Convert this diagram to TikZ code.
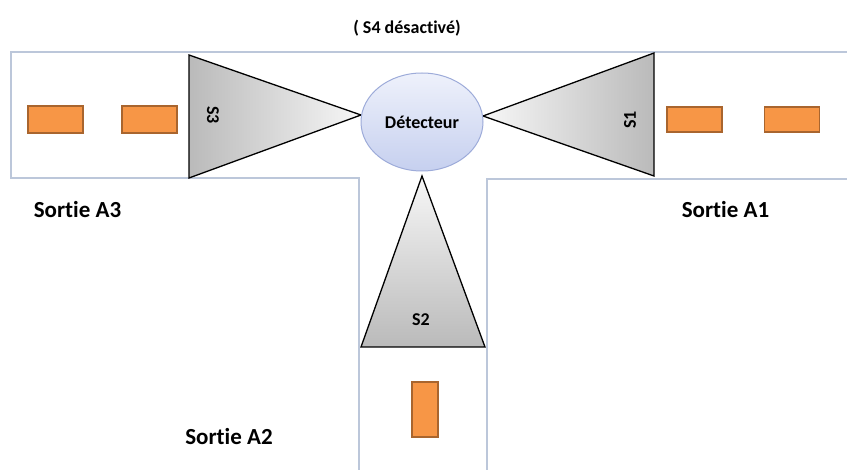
\documentclass[tikz,border=0pt]{standalone}
\usepackage{fontspec}
\setmainfont{Carlito}[RawFeature=-liga]
\usetikzlibrary{positioning,shapes.geometric}
\definecolor{route}{HTML}{BCC7DA}
\definecolor{voiture}{HTML}{F79646}
\definecolor{voiturebord}{HTML}{A9652E}
\definecolor{bleuclair}{HTML}{EEF1FB}
\definecolor{bleu}{HTML}{C6D0EF}
\definecolor{bleubord}{HTML}{9DABD9}
\definecolor{gris}{HTML}{BABABA}
\definecolor{grisclair}{HTML}{F7F7F7}

\begin{document}
\begin{tikzpicture}[x=1pt,y=-1pt,
    voie/.style={draw=route,line width=1.6pt},
    vehicule/.style={rectangle,fill=voiture,draw=voiturebord,line width=1.2pt,inner sep=0pt},
    capteur/.style={draw=black,line width=1.3pt,line join=miter},
    etiquette/.style={font=\bfseries\fontsize{18}{20}\selectfont,inner sep=1pt},
    sortie/.style={font=\bfseries\fontsize{23}{26}\selectfont,inner sep=1pt}]
  \useasboundingbox (0,0) rectangle (847,470);

  % bords de la route
  \draw[voie] (847,52) -- (11,52) -- (11,178) -- (359,178) -- (359,470);
  \draw[voie] (487,470) -- (487,179) -- (847,179);

  % capteurs
  \path[capteur,left color=gris,right color=grisclair] (189,55) -- (189,178) -- (361,115) -- cycle;
  \path[capteur,left color=grisclair,right color=gris] (654,53) -- (654,176) -- (483,116) -- cycle;
  \path[capteur,top color=grisclair,bottom color=gris] (422,176) -- (485,347) -- (361,347) -- cycle;

  \node[ellipse,draw=bleubord,top color=bleuclair,bottom color=bleu,line width=1pt,
    minimum width=122pt,minimum height=98pt,inner sep=0pt,
    font=\bfseries\fontsize{18}{20}\selectfont] (det) at (422,122) {Détecteur};

  \node[etiquette,rotate=-90] (s3) at (213,115) {S3};
  \node[etiquette,rotate=90] (s1) at (630,120) {S1};
  \node[etiquette] (s2) at (421,320) {S2};
  \node[etiquette] (s4) at (407,28) {( S4 désactivé)};

  % vehicules
  \node[vehicule,minimum width=55pt,minimum height=27pt] (v31) at (55.5,119.5) {};
  \node[vehicule,minimum width=55pt,minimum height=27pt] (v32) at (149.5,119.5) {};
  \node[vehicule,minimum width=55pt,minimum height=25pt] (v11) at (694.5,119.5) {};
  \node[vehicule,minimum width=55pt,minimum height=25pt] (v12) at (792,119.5) {};
  \node[vehicule,minimum width=26pt,minimum height=55pt] (v21) at (425,409.5) {};

  % sorties
  \node[sortie] (a3) at (77.5,210) {Sortie A3};
  \node[sortie] (a1) at (725.5,210) {Sortie A1};
  \node[sortie] (a2) at (229,437) {Sortie A2};
\end{tikzpicture}
\end{document}
